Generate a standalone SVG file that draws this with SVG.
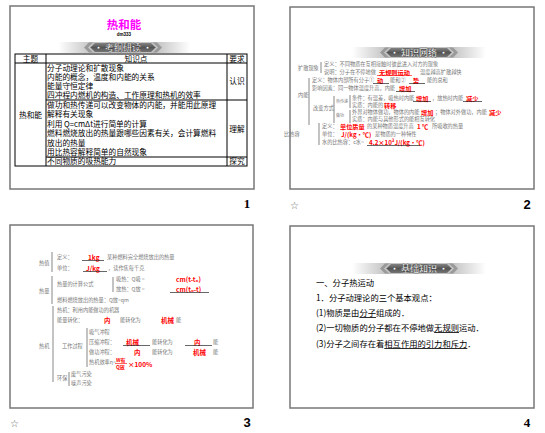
<svg xmlns="http://www.w3.org/2000/svg" width="545" height="433" viewBox="0 0 545 433">
<defs>
<linearGradient id="band" x1="0" y1="0" x2="1" y2="0">
<stop offset="0" stop-color="#fff"/>
<stop offset="0.3" stop-color="#b8b8b8"/>
<stop offset="0.7" stop-color="#b8b8b8"/>
<stop offset="1" stop-color="#fff"/>
</linearGradient>
<linearGradient id="pill" x1="0" y1="0" x2="0" y2="1">
<stop offset="0" stop-color="#888"/>
<stop offset="0.5" stop-color="#555"/>
<stop offset="1" stop-color="#777"/>
</linearGradient>
</defs>
<style>
.frame{fill:#fff;stroke:#777;stroke-width:1.5}
text{font-family:"Noto Sans CJK SC","Liberation Sans",sans-serif}
.t{font-size:7.7px;fill:#000}
.s{font-size:5.2px;fill:#777}
.sl{font-size:4px;fill:#777}
.r{font-size:6.2px;fill:#f00;font-weight:bold}
.r3{font-size:6.5px;fill:#f00;font-weight:bold}
.b4{font-size:8.3px;fill:#000}
.ban{font-size:9px;fill:#fff;font-weight:bold;text-anchor:middle;stroke:#333;stroke-width:0.3}
.grid{stroke:#000;stroke-width:1;fill:none}
.ln{stroke:#000;stroke-width:0.6;fill:none}
.rl{stroke:#f00;stroke-width:0.6;fill:none}
.br{stroke:#555;stroke-width:0.7;fill:none}
.pg{font-family:"Liberation Serif",serif;font-size:13px;font-weight:bold;fill:#000}
.pgs{font-family:"Liberation Sans",sans-serif;font-size:13px;font-weight:bold;fill:#000}
.star{font-family:"DejaVu Sans",sans-serif;font-size:10px;fill:#666}
</style>
<rect width="545" height="433" fill="#fff"/>

<!-- Slide 1 -->
<g id="slide1">
<rect class="frame" x="10" y="6" width="244" height="183"/>
<text x="124" y="29" text-anchor="middle" style="font-size:11.5px;fill:#f0f;font-weight:bold">热和能</text>
<text x="124" y="36" text-anchor="middle" style="font-size:4.5px;fill:#000;font-family:'Liberation Sans',sans-serif;font-weight:bold">dm333</text>
<g id="banner1">
<rect x="58" y="42" width="132" height="11" fill="url(#band)"/>
<path d="M84,47.5 L89,42.5 L93,42.5 L88,47.5 L93,52.5 L89,52.5 Z" fill="#999"/>
<path d="M162,47.5 L157,42.5 L153,42.5 L158,47.5 L153,52.5 L157,52.5 Z" fill="#999"/>
<path d="M90,47.5 L95,42.5 L151,42.5 L156,47.5 L151,52.5 L95,52.5 Z" fill="url(#pill)" stroke="#ddd" stroke-width="0.6"/>
<text class="ban" x="123" y="51">• 考纲研读 •</text>
</g>
<g id="table1">
<rect class="grid" x="15" y="54" width="232" height="112"/>
<path class="grid" d="M15,63 H247 M46,54 V166 M227,54 V166 M46,100 H247 M46,157 H247"/>
<text class="t" x="30.5" y="61.5" text-anchor="middle">主题</text>
<text class="t" x="136" y="61.5" text-anchor="middle">知识点</text>
<text class="t" x="237" y="61.5" text-anchor="middle">要求</text>
<text class="t" x="30.5" y="118" text-anchor="middle">热和能</text>
<text class="t" x="47" y="71">分子动理论和扩散现象</text>
<text class="t" x="47" y="80">内能的概念，温度和内能的关系</text>
<text class="t" x="47" y="89">能量守恒定律</text>
<text class="t" x="47" y="98">四冲程内燃机的构造、工作原理和热机的效率</text>
<text class="t" x="237" y="84" text-anchor="middle">认识</text>
<text class="t" x="47" y="107.5">做功和热传递可以改变物体的内能，并能用此原理</text>
<text class="t" x="47" y="117">解释有关现象</text>
<text class="t" x="47" y="126.5">利用 Q=cmΔt进行简单的计算</text>
<text class="t" x="47" y="136">燃料燃烧放出的热量跟哪些因素有关，会计算燃料</text>
<text class="t" x="47" y="145.5">放出的热量</text>
<text class="t" x="47" y="155">用比热容解释简单的自然现象</text>
<text class="t" x="237" y="132" text-anchor="middle">理解</text>
<text class="t" x="47" y="164">不同物质的吸热能力</text>
<text class="t" x="237" y="164" text-anchor="middle">探究</text>
</g>
<text class="pg" x="247" y="208" text-anchor="middle">1</text>
</g>

<!-- Slide 2 -->
<g id="slide2">
<rect class="frame" x="290" y="7" width="244" height="182"/>
<g id="banner2">
<rect x="352" y="47" width="134" height="11" fill="url(#band)"/>
<path d="M380,52.5 L385,47.5 L389,47.5 L384,52.5 L389,57.5 L385,57.5 Z" fill="#999"/>
<path d="M458,52.5 L453,47.5 L449,47.5 L454,52.5 L449,57.5 L453,57.5 Z" fill="#999"/>
<path d="M386,52.5 L391,47.5 L447,47.5 L452,52.5 L447,57.5 L391,57.5 Z" fill="url(#pill)" stroke="#ddd" stroke-width="0.6"/>
<text class="ban" x="419" y="56">• 知识网络 •</text>
</g>
<text class="s" x="298" y="70">扩散现象</text>
<path class="br" d="M321,62 V73"/>
<text class="s" x="324" y="66">定义：不同物质在互相接触时彼此进入对方的现象</text>
<text class="s" x="324" y="74">说明：分子在不停地做</text>
<text class="r" x="379" y="74.5">无规则运动</text>
<path class="rl" d="M377,75.5 H412"/>
<text class="s" x="420" y="74">温度越高扩散越快</text>
<text class="s" x="312" y="82">定义：物体内部所有分子①</text>
<text class="r" x="377" y="82.5">动</text>
<path class="ln" d="M373,83.5 H389"/>
<text class="s" x="390" y="82">能和②</text>
<text class="r" x="413" y="82.5">势</text>
<path class="ln" d="M409,83.5 H425"/>
<text class="s" x="427" y="82">能的总和</text>
<text class="s" x="312" y="90">影响因素：同一物体温度升高，内能</text>
<text class="r" x="399" y="90.5">增加</text>
<path class="ln" d="M396,91.5 H415"/>
<text class="s" x="298" y="97">内能</text>
<path class="br" d="M309,78 V125"/>
<text class="s" x="313" y="110">改变方式</text>
<path class="br" d="M334,96 V123"/>
<text class="sl" x="336" y="103">热传递</text>
<path class="br" d="M350,95 V108"/>
<text class="s" x="352" y="100">条件：有温差，吸热时内能</text>
<text class="r" x="416" y="100.5">增加</text>
<path class="ln" d="M413,101.5 H431"/>
<text class="s" x="432" y="100">，放热时内能</text>
<text class="r" x="466" y="100.5">减少</text>
<path class="ln" d="M463,101.5 H482"/>
<text class="s" x="352" y="107">实质：内能的</text>
<text class="r" x="384" y="107.5">转移</text>
<text class="sl" x="336" y="117">做功</text>
<path class="br" d="M350,110 V123"/>
<text class="s" x="352" y="114">外界对物体做功，物体的内能</text>
<text class="r" x="421" y="114.5">增加</text>
<text class="s" x="435" y="114">；物体对外做功，内能</text>
<text class="r" x="489" y="114.5">减少</text>
<text class="s" x="352" y="121">实质：内能与其他形式的能相互转化</text>
<text class="s" x="322" y="128">定义：</text>
<text class="r" x="340" y="128.5">单位质量</text>
<text class="s" x="367" y="128">的某种物质温度升高</text>
<text class="r" x="417" y="128.5">1 ℃</text>
<text class="s" x="432" y="128">所吸收的热量</text>
<text class="s" x="284" y="136">比热容</text>
<path class="br" d="M319,123 V145"/>
<text class="s" x="322" y="136">单位：</text>
<text class="r" x="341" y="136.5">J/(kg·℃)</text>
<text class="s" x="375" y="136">是物质的一种特性</text>
<text class="s" x="322" y="144">水的比热容：c水=</text>
<text class="r" x="369" y="144.5">4.2×10³J/(kg·℃)</text>
<path class="ln" d="M367,145.5 H420"/>
<text class="star" x="290" y="209">☆</text>
<text class="pgs" x="527" y="209" text-anchor="middle">2</text>
</g>

<!-- Slide 3 -->
<g id="slide3">
<rect class="frame" x="10" y="225" width="243" height="183"/>
<text class="s" x="39" y="265">热值</text>
<path class="br" d="M52,252 V272"/>
<text class="s" x="57" y="259">定义：</text>
<text class="r3" x="88" y="259.5">1kg</text>
<path class="ln" d="M82,260.5 H104"/>
<text class="s" x="107" y="259">某种燃料完全燃烧放出的热量</text>
<text class="s" x="57" y="270">单位：</text>
<text class="r3" x="86" y="270.5">J/kg</text>
<path class="ln" d="M83,271.5 H107"/>
<text class="s" x="108" y="270">，读作焦每千克</text>
<text class="s" x="39" y="293">热量</text>
<path class="br" d="M52,276 V304"/>
<text class="s" x="57" y="286">热量的计算公式</text>
<path class="br" d="M113,277 V292"/>
<text class="s" x="116" y="281">吸热：Q吸 = </text>
<text class="r3" x="176" y="281.5">cm(t-t₀)</text>
<text class="s" x="116" y="291">放热：Q放 = </text>
<text class="r3" x="176" y="291.5">cm(t₀-t)</text>
<path class="ln" d="M170,292.5 H209"/>
<text class="s" x="57" y="302">燃料燃烧放出的热量：Q放=qm</text>
<text class="s" x="39" y="348">热机</text>
<path class="br" d="M53,306 V382"/>
<text class="s" x="57" y="312">热机：利用内能做功的机器</text>
<text class="s" x="57" y="322">能量转化：</text>
<text class="r3" x="104" y="322.5">内</text>
<text class="s" x="120" y="322">能转化为</text>
<text class="r3" x="161" y="322.5">机械</text>
<text class="s" x="176" y="322">能</text>
<text class="s" x="62" y="348">工作过程</text>
<path class="br" d="M87,328 V367"/>
<text class="s" x="89" y="334">吸气冲程</text>
<text class="s" x="89" y="344">压缩冲程：</text>
<text class="r3" x="126" y="344.5">机械</text>
<path class="ln" d="M123,345.5 H150"/>
<text class="s" x="152" y="344">能转化为</text>
<text class="r3" x="194" y="344.5">内</text>
<path class="ln" d="M185,345.5 H212"/>
<text class="s" x="213" y="344">能</text>
<text class="s" x="89" y="354">做功冲程：</text>
<text class="r3" x="134" y="354.5">内</text>
<text class="s" x="152" y="354">能转化为</text>
<text class="r3" x="193" y="354.5">机械</text>
<text class="s" x="213" y="354">能</text>
<text class="s" x="89" y="364">热机效率η=</text>
<text class="r3" x="116" y="362" style="font-size:5px">W有</text>
<path class="rl" d="M115,363.5 H127"/>
<text class="r3" x="116" y="369" style="font-size:5px">Q放</text>
<text class="r3" x="128" y="367">×100%</text>
<text class="s" x="57" y="380">环保</text>
<path class="br" d="M69,372 V386"/>
<text class="s" x="71" y="376">废气污染</text>
<text class="s" x="71" y="385">噪声污染</text>
<text class="star" x="10" y="427">☆</text>
<text class="pgs" x="247" y="427" text-anchor="middle">3</text>
</g>

<!-- Slide 4 -->
<g id="slide4">
<rect class="frame" x="290" y="226" width="244" height="182"/>
<g id="banner4">
<rect x="352" y="263" width="134" height="11" fill="url(#band)"/>
<path d="M380,268.5 L385,263.5 L389,263.5 L384,268.5 L389,273.5 L385,273.5 Z" fill="#999"/>
<path d="M458,268.5 L453,263.5 L449,263.5 L454,268.5 L449,273.5 L453,273.5 Z" fill="#999"/>
<path d="M386,268.5 L391,263.5 L447,263.5 L452,268.5 L447,273.5 L391,273.5 Z" fill="url(#pill)" stroke="#ddd" stroke-width="0.6"/>
<text class="ban" x="419" y="272">• 基础知识 •</text>
</g>
<text class="b4" x="316" y="286">一、分子热运动</text>
<text class="b4" x="316" y="301">1．分子动理论的三个基本观点：</text>
<text class="b4" x="316" y="316">(1)物质是由<tspan text-decoration="underline">分子</tspan>组成的．</text>
<text class="b4" x="316" y="331">(2)一切物质的分子都在不停地做<tspan text-decoration="underline">无规则</tspan>运动．</text>
<text class="b4" x="316" y="347">(3)分子之间存在着<tspan text-decoration="underline">相互作用的引力和斥力</tspan>．</text>
<text class="pg" x="527" y="427" text-anchor="middle">4</text>
</g>
</svg>
